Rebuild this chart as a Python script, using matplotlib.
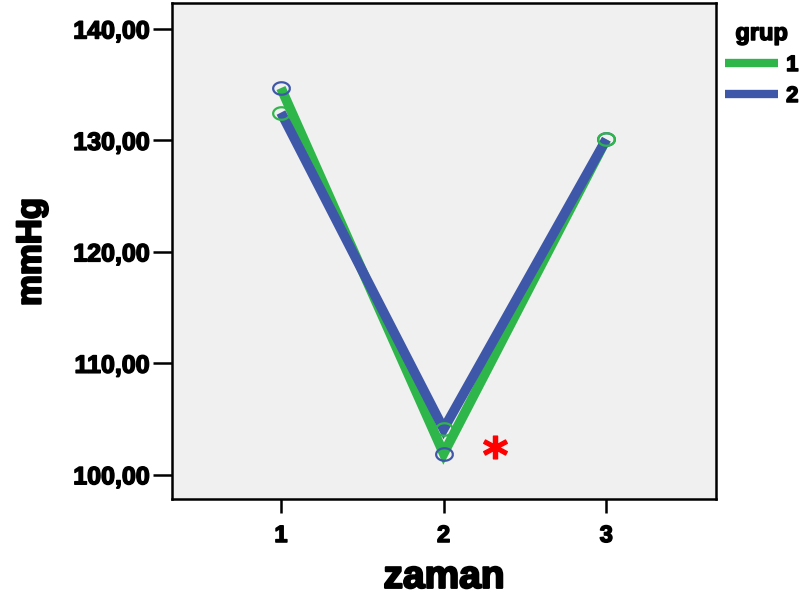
import matplotlib
matplotlib.use("Agg")
import matplotlib.pyplot as plt
import matplotlib.patheffects as pe
from matplotlib.path import Path
import numpy as np

# values
zaman = [1, 2, 3]
grup1 = [134.7, 101.9, 130.1]
grup2 = [132.5, 104.1, 130.1]
groups = ["1", "2"]
yticks = [100, 110, 120, 130, 140]
star_x, star_y = 2.315, 102.5

GREEN = "#2fb64a"
BLUE = "#3f57a8"

plt.rcParams['font.family'] = ['Liberation Sans', 'DejaVu Sans']
plt.rcParams['font.weight'] = 'bold'

heavy = [pe.withStroke(linewidth=1.1, foreground='black')]

# slightly flattened circle like the SPSS marker
t = np.linspace(0, 2 * np.pi, 60)
ellipse = Path(np.column_stack([np.cos(t), 0.75 * np.sin(t)]))

fig = plt.figure(figsize=(8.04, 5.99), dpi=100)
ax = fig.add_axes([0.2139, 0.1669, 0.6766, 0.8281])
ax.set_facecolor("#f0f0f0")

l1, = ax.plot(zaman, grup1, color=GREEN, lw=7, solid_joinstyle='miter',
              solid_capstyle='butt', zorder=2)
l2, = ax.plot(zaman, grup2, color=BLUE, lw=7, solid_joinstyle='miter',
              solid_capstyle='butt', zorder=3)
# SPSS draws the markers in the other group's colour
ax.plot(zaman, grup1, ls='none', marker=ellipse, ms=12, mfc='none',
        mec=BLUE, mew=1.6, zorder=4)
ax.plot(zaman, grup2, ls='none', marker=ellipse, ms=12, mfc='none',
        mec=GREEN, mew=1.6, zorder=5)

ax.plot(star_x, star_y, ls='none', marker='$*$', ms=17, color='red', zorder=6)

ax.set_xlim(0.33, 3.674)
ax.set_ylim(97.82, 142.33)
ax.set_xticks(zaman)
ax.set_yticks(yticks)
ax.set_yticklabels([f"{v:.2f}".replace(".", ",") for v in yticks])

for s in ax.spines.values():
    s.set_linewidth(1.8)
ax.tick_params(axis='y', length=14, width=1.8, labelsize=18, pad=2)
ax.tick_params(axis='x', length=10, width=1.8, labelsize=17, pad=8)
for lbl in ax.get_xticklabels() + ax.get_yticklabels():
    lbl.set_path_effects(heavy)

xl = ax.set_xlabel("zaman", fontsize=28, fontweight='bold', va='baseline')
ax.xaxis.set_label_coords(0.5, -0.179)
yl = ax.set_ylabel("mmHg", fontsize=25, fontweight='bold', va='center')
ax.yaxis.set_label_coords(-0.259, 0.498)
xl.set_path_effects([pe.withStroke(linewidth=1.6, foreground='black')])
yl.set_path_effects([pe.withStroke(linewidth=1.6, foreground='black')])

leg = fig.legend([l1, l2], groups, title="grup", loc='upper left',
                 bbox_to_anchor=(725 / 804, 1 - 22 / 599),
                 bbox_transform=fig.transFigure, frameon=False,
                 fontsize=16, title_fontsize=17, handlelength=2.4,
                 handletextpad=0.35, labelspacing=0.45,
                 borderaxespad=0, borderpad=0)
for h in leg.legend_handles:
    h.set_linewidth(6)
leg.get_title().set_fontweight('bold')
leg.get_title().set_path_effects(heavy)
for txt in leg.get_texts():
    txt.set_path_effects(heavy)

fig.savefig("out.png", dpi=100)
